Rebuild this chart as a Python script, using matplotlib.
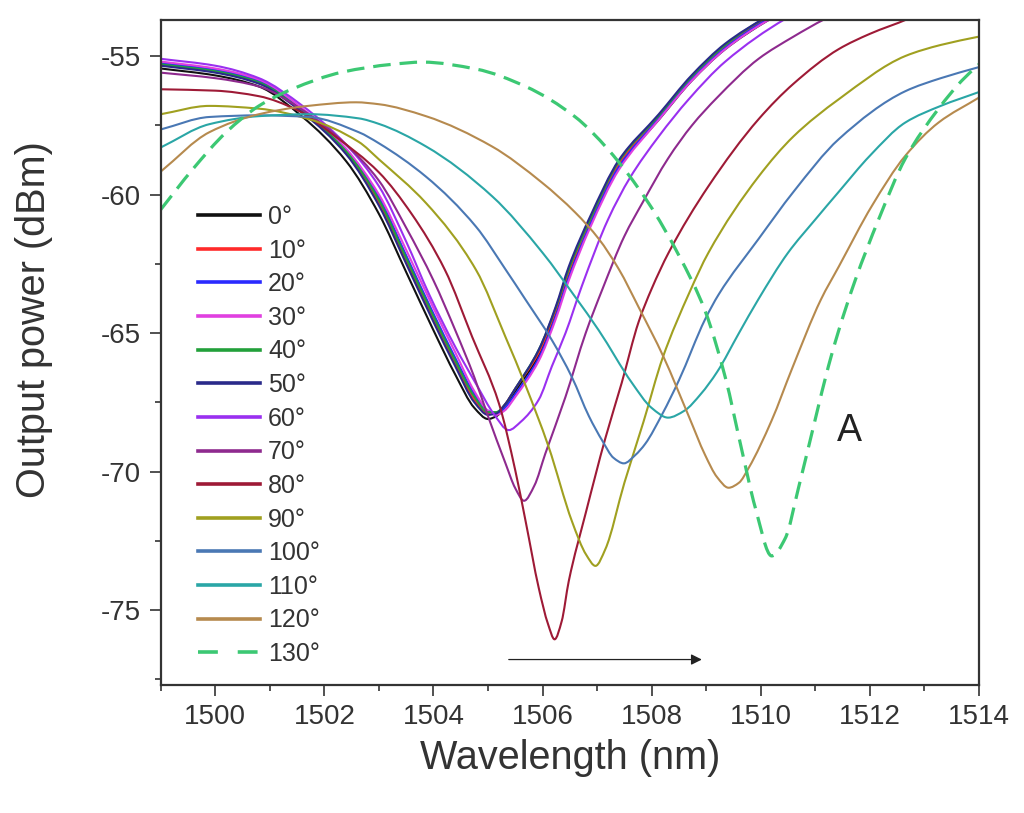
import matplotlib
matplotlib.use("Agg")
import numpy as np
import matplotlib.pyplot as plt
from matplotlib.path import Path
from matplotlib.patches import PathPatch
from matplotlib.lines import Line2D

plt.rcParams['font.family'] = ['Liberation Sans', 'DejaVu Sans']
plt.rcParams['axes.unicode_minus'] = False

# ---------------- data ----------------
angles = ["0°", "10°", "20°", "30°", "40°", "50°", "60°", "70°",
          "80°", "90°", "100°", "110°", "120°", "130°"]

band_wl = [1499, 1500, 1500.8, 1501.6, 1502.4, 1503.0, 1503.5, 1504.0, 1504.4,
           1504.75, 1505.0, 1505.15, 1505.3, 1505.5, 1505.93, 1506.24, 1506.48,
           1506.87, 1507.4, 1508.13, 1508.73, 1509.35, 1510.1, 1510.8]
p0 = [-55.45, -55.7, -56.1, -57.2, -58.8, -60.7, -62.8, -64.9, -66.5, -67.7, -68.1, -68.0,
      -67.7, -67.1, -65.8, -64.3, -62.9, -61.1, -59.0, -57.3, -55.9, -54.75, -53.75, -53.0]
p10 = [-55.3, -55.55, -55.95, -57.0, -58.5, -60.3, -62.4, -64.5, -66.1, -67.4, -67.9, -67.9,
       -67.6, -67.0, -65.7, -64.2, -62.8, -61.0, -58.9, -57.2, -55.8, -54.65, -53.65, -52.95]
p20 = [-55.25, -55.5, -55.9, -56.95, -58.4, -60.1, -62.2, -64.3, -65.9, -67.2, -67.8, -67.9,
       -67.7, -67.2, -65.9, -64.4, -63.0, -61.1, -59.0, -57.25, -55.85, -54.7, -53.7, -53.0]
p30 = [-55.2, -55.45, -55.85, -56.9, -58.35, -60.0, -62.0, -64.1, -65.7, -67.1, -67.8, -67.95,
       -67.8, -67.3, -66.0, -64.5, -63.1, -61.2, -59.1, -57.3, -55.9, -54.75, -53.75, -53.05]
p40 = [-55.3, -55.55, -55.95, -57.0, -58.45, -60.2, -62.3, -64.4, -66.0, -67.3, -67.85, -67.85,
       -67.6, -67.0, -65.6, -64.1, -62.7, -60.9, -58.8, -57.15, -55.75, -54.6, -53.6, -52.9]
p50 = [-55.35, -55.6, -56.0, -57.05, -58.55, -60.4, -62.5, -64.6, -66.2, -67.5, -67.95, -67.9,
       -67.6, -67.0, -65.6, -64.05, -62.6, -60.8, -58.75, -57.1, -55.7, -54.55, -53.6, -52.9]

wl60 = [1499, 1500, 1500.8, 1501.6, 1502.4, 1503.0, 1503.5, 1503.92, 1504.4, 1504.8, 1505.1,
        1505.38, 1505.6, 1505.93, 1506.17, 1506.42, 1506.72, 1507.2, 1507.6, 1508.13, 1508.68,
        1509.35, 1510.45, 1511.0]
p60 = [-55.1, -55.35, -55.8, -56.8, -58.2, -59.7, -61.7, -63.6, -65.5, -66.9, -67.9,
       -68.5, -68.2, -67.4, -66.2, -65.0, -63.3, -60.9, -59.4, -57.9, -56.56,
       -55.2, -53.66, -53.1]

wl70 = [1499, 1500, 1500.8, 1501.6, 1502.4, 1503.0, 1503.5, 1504.0, 1504.4, 1504.75, 1505.0,
        1505.32, 1505.5, 1505.66, 1505.85, 1506.05, 1506.42, 1506.79, 1507.1, 1507.5, 1507.83,
        1508.3, 1508.74, 1509.2, 1509.96, 1510.6, 1511.18, 1511.8]
p70 = [-55.6, -55.8, -56.1, -56.95, -58.2, -59.5, -61.2, -63.1, -64.9, -66.6, -68.0,
       -69.7, -70.6, -71.05, -70.5, -69.35, -67.3, -65.0, -63.4, -61.5, -60.3,
       -58.7, -57.5, -56.5, -55.1, -54.3, -53.66, -53.1]

wl80 = [1499, 1500, 1500.8, 1501.5, 1502.2, 1503.0, 1503.6, 1504.21, 1504.71, 1505.2, 1505.5,
        1505.69, 1505.93, 1506.1, 1506.22, 1506.35, 1506.48, 1506.79, 1507.15, 1507.45, 1507.76,
        1508.0, 1508.31, 1509.04, 1509.96, 1510.6, 1511.43, 1512.0, 1512.7, 1513.3]
p80 = [-56.2, -56.25, -56.45, -56.95, -57.9, -59.2, -60.7, -62.72, -65.14, -67.54, -69.96,
       -71.8, -74.2, -75.5, -76.05, -75.4, -73.95, -71.5, -68.8, -66.8, -64.6,
       -63.4, -62.1, -59.7, -57.28, -56.0, -54.75, -54.2, -53.66, -53.1]

wl90 = [1499, 1499.89, 1500.8, 1501.72, 1502.63, 1503.0, 1503.86, 1504.78, 1505.32, 1505.69,
        1506.11, 1506.54, 1506.8, 1506.97, 1507.15, 1507.5, 1507.85, 1508.2, 1508.7, 1509.04,
        1509.96, 1510.6, 1511.43, 1512.65, 1513.3, 1514.0]
p90 = [-57.1, -56.8, -56.9, -57.28, -58.1, -58.73, -60.3, -62.72, -65.14, -66.9,
       -69.1, -71.8, -73.0, -73.4, -72.8, -70.4, -68.2, -65.9, -63.5, -62.1,
       -59.35, -57.9, -56.56, -55.0, -54.6, -54.3]

wl100 = [1499, 1499.89, 1500.8, 1501.72, 1502.63, 1503.0, 1503.86, 1504.78, 1505.32, 1505.69,
         1506.17, 1506.54, 1506.85, 1507.1, 1507.3, 1507.49, 1507.7, 1507.88, 1508.2, 1508.5,
         1508.98, 1509.23, 1509.96, 1510.6, 1511.43, 1512.65, 1513.3, 1514.0]
p100 = [-57.65, -57.2, -57.14, -57.2, -57.75, -58.15, -59.35, -61.16, -62.7, -63.8,
        -65.25, -66.6, -68.0, -68.9, -69.5, -69.7, -69.4, -69.0, -67.9, -66.7,
        -64.5, -63.6, -61.6, -59.9, -58.0, -56.27, -55.8, -55.4]

wl110 = [1499, 1499.89, 1500.8, 1501.72, 1502.63, 1503.0, 1503.86, 1505.08, 1506.0, 1506.6,
         1507.03, 1507.64, 1508.0, 1508.3, 1508.6, 1508.9, 1509.2, 1509.6, 1509.95, 1510.5,
         1511.0, 1511.43, 1512.0, 1512.65, 1513.3, 1514.0]
p110 = [-58.3, -57.46, -57.17, -57.1, -57.25, -57.45, -58.26, -60.07, -62.1, -63.7,
        -64.9, -66.8, -67.7, -68.05, -67.8, -67.2, -66.4, -65.0, -63.8, -62.1,
        -60.9, -59.9, -58.6, -57.4, -56.8, -56.3]

wl120 = [1499, 1499.89, 1500.8, 1501.7, 1502.58, 1503.0, 1503.86, 1505.07, 1505.99, 1506.6,
         1507.03, 1507.4, 1507.76, 1508.22, 1508.68, 1508.98, 1509.2, 1509.41, 1509.6, 1509.78,
         1510.2, 1510.57, 1511.1, 1511.43, 1512.04, 1512.65, 1513.26, 1514.0]
p120 = [-59.17, -57.75, -57.1, -56.8, -56.67, -56.74, -57.17, -58.26, -59.57, -60.65,
        -61.6, -62.7, -64.06, -65.87, -68.0, -69.4, -70.2, -70.58, -70.4, -69.86,
        -68.15, -66.3, -63.8, -62.6, -60.4, -58.6, -57.4, -56.5]

wl130 = [1499, 1499.58, 1500.2, 1500.8, 1501.4, 1502.33, 1503.24, 1503.8, 1504.78, 1505.69,
         1506.6, 1507.2, 1507.94, 1508.5, 1508.98, 1509.35, 1509.65, 1509.9, 1510.2, 1510.45,
         1510.69, 1511.0, 1511.24, 1511.43, 1511.73, 1512.16, 1512.65, 1513.26, 1513.68, 1514.0]
p130 = [-60.54, -59.1, -57.75, -56.8, -56.2, -55.58, -55.3, -55.22, -55.47, -56.1,
        -57.2, -58.37, -60.3, -62.2, -64.2, -66.6, -69.2, -71.3, -73.04, -72.4,
        -70.6, -68.1, -66.2, -64.9, -63.1, -60.9, -58.7, -56.9, -55.9, -55.3]

series_wl = [band_wl, band_wl, band_wl, band_wl, band_wl, band_wl,
             wl60, wl70, wl80, wl90, wl100, wl110, wl120, wl130]
series_p = [p0, p10, p20, p30, p40, p50, p60, p70, p80, p90, p100, p110, p120, p130]

colors = ['#111111', '#ff2a2a', '#2a2aff', '#e040e0', '#22a03a', '#2a2a8a',
          '#9a30f0', '#8e2a8e', '#9e1a36', '#a0a020', '#4a78b4', '#2aa6a6',
          '#b68a4e', '#3cc873']

x_ticks = [1500, 1502, 1504, 1506, 1508, 1510, 1512, 1514]
y_ticks = [-75, -70, -65, -60, -55]


def smooth_path(xs, ys):
    """Monotone cubic Hermite curve through the read points, as Bezier path."""
    x = np.asarray(xs, float)
    y = np.asarray(ys, float)
    h = np.diff(x)
    delta = np.diff(y) / h
    n = len(x)
    d = np.zeros(n)
    d[0] = delta[0]
    d[-1] = delta[-1]
    for k in range(1, n - 1):
        if delta[k - 1] * delta[k] <= 0:
            d[k] = 0.0
        else:
            w1 = 2 * h[k] + h[k - 1]
            w2 = h[k] + 2 * h[k - 1]
            d[k] = (w1 + w2) / (w1 / delta[k - 1] + w2 / delta[k])
    verts = [(x[0], y[0])]
    codes = [Path.MOVETO]
    for i in range(n - 1):
        verts.append((x[i] + h[i] / 3, y[i] + d[i] * h[i] / 3))
        verts.append((x[i + 1] - h[i] / 3, y[i + 1] - d[i + 1] * h[i] / 3))
        verts.append((x[i + 1], y[i + 1]))
        codes += [Path.CURVE4] * 3
    return Path(verts, codes)


# ---------------- figure ----------------
fig = plt.figure(figsize=(10.24, 8.13), dpi=100)
ax = fig.add_axes([0.157, 0.1574, 0.799, 0.818])

handles = []
for wl, p, c, lab in zip(series_wl, series_p, colors, angles):
    dashed = lab == "130°"
    ls = (0, (5.5, 2.8)) if dashed else '-'
    lw = 2.3 if dashed else 1.5
    patch = PathPatch(smooth_path(wl, p), facecolor='none', edgecolor=c, lw=lw,
                      linestyle=ls, joinstyle='round', capstyle='butt')
    ax.add_patch(patch)
    handles.append(Line2D([], [], color=c, lw=2.6,
                          ls=(0, (5.5, 5.5)) if dashed else '-', label=lab))

ax.set_xlim(1499, 1514)
ax.set_ylim(-77.7, -53.7)
ax.set_xticks(x_ticks)
ax.set_yticks(y_ticks)
ax.set_xticks(range(1499, 1515), minor=True)
ax.set_yticks([-77.5, -72.5, -67.5, -62.5, -57.5], minor=True)

for s in ax.spines.values():
    s.set_linewidth(1.6)
    s.set_color('#333333')

ax.tick_params(which='major', direction='out', length=8, width=1.2, colors='#333333',
               labelsize=20, pad=6)
ax.tick_params(which='minor', direction='out', length=4.5, width=1.2, colors='#333333')
ax.tick_params(top=False, right=False, which='both')

ax.set_xlabel("Wavelength (nm)", fontsize=28.5, color='#333333', labelpad=6)
ax.set_ylabel("Output power (dBm)", fontsize=28.5, color='#333333')
ax.yaxis.set_label_coords(-0.132, 0.549)

ax.annotate("", xy=(1508.92, -76.78), xytext=(1505.38, -76.78),
            arrowprops=dict(arrowstyle='-|>', color='#222222', lw=0.9,
                            mutation_scale=16, shrinkA=0, shrinkB=0))
ax.text(1511.63, -68.55, "A", fontsize=27, color='#222222', ha='center', va='center')

leg = ax.legend(handles=handles, loc='upper left', bbox_to_anchor=(0.1934, 0.7479),
                bbox_transform=fig.transFigure, frameon=False, fontsize=18,
                handlelength=2.48, handletextpad=0.32, labelspacing=0.385,
                borderpad=0, borderaxespad=0)
for t in leg.get_texts():
    t.set_color('#333333')

fig.savefig("out.png", dpi=100)
